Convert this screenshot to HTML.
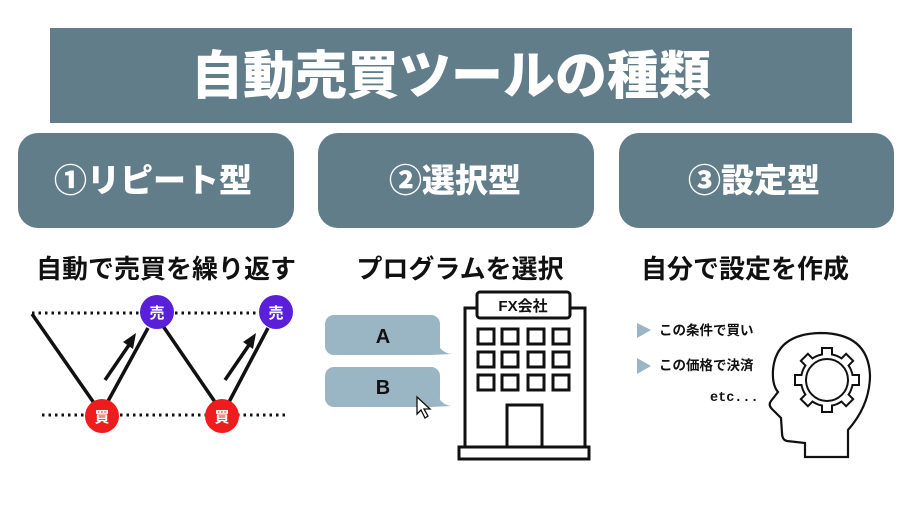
<!DOCTYPE html>
<html><head><meta charset="utf-8"><style>
body{margin:0;width:900px;height:500px;background:#fff;overflow:hidden;font-family:"Liberation Sans","Noto Sans CJK JP",sans-serif;}
</style></head><body>
<svg width="900" height="500" xmlns="http://www.w3.org/2000/svg" font-family="Liberation Sans, Noto Sans CJK JP, sans-serif">
<defs>
<g id="tb"><rect x="-6" y="-33" width="12" height="14"/></g>
<g id="tw"><rect x="-4" y="-31" width="8" height="13"/></g>
</defs>
<rect x="50" y="28" width="802" height="95" fill="#627d8a"/>
<text x="451" y="94" text-anchor="middle" fill="#fff" font-size="52" font-weight="900">自動売買ツールの種類</text>
<rect x="18" y="133" width="276" height="95" rx="20" fill="#627d8a"/>
<rect x="318" y="133" width="276" height="95" rx="20" fill="#627d8a"/>
<rect x="619" y="133" width="275" height="95" rx="20" fill="#627d8a"/>
<g fill="#fff" font-size="33" font-weight="900" text-anchor="middle">
<text x="153" y="192">①リピート型</text>
<text x="455" y="192">②選択型</text>
<text x="754" y="192">③設定型</text>
</g>
<g fill="#111" font-size="26" font-weight="700" text-anchor="middle">
<text x="166" y="278">自動で売買を繰り返す</text>
<text x="460" y="278">プログラムを選択</text>
<text x="745" y="278">自分で設定を作成</text>
</g>
<g stroke="#111" stroke-width="3" stroke-dasharray="2.5 4" fill="none">
<line x1="32" y1="313" x2="290" y2="313"/>
<line x1="42" y1="415" x2="287" y2="415"/>
</g>
<g stroke="#111" stroke-width="3.5" fill="none">
<polyline points="32,314 94,403"/>
<polyline points="107,403 148,328"/>
<polyline points="163,326 215,402"/>
<polyline points="229,402 268,328"/>
<line x1="105" y1="380" x2="129" y2="345"/>
<line x1="225" y1="380" x2="249" y2="345"/>
</g>
<polygon points="136,333 123,342 133,349" fill="#111"/>
<polygon points="256,333 243,342 253,349" fill="#111"/>
<circle cx="157" cy="312" r="17" fill="#5a1fd9"/>
<circle cx="276" cy="312" r="17" fill="#5a1fd9"/>
<circle cx="102" cy="416" r="17" fill="#ee1c1c"/>
<circle cx="222" cy="416" r="17" fill="#ee1c1c"/>
<g fill="#fff" font-size="15" font-weight="700" text-anchor="middle">
<text x="157" y="318">売</text><text x="276" y="318">売</text>
<text x="102" y="422">買</text><text x="222" y="422">買</text>
</g>
<g fill="#9ab5c3">
<rect x="325" y="315" width="115" height="40" rx="9"/>
<path d="M436,340 Q440,353 452,354 L430,355 Z"/>
<rect x="325" y="367" width="115" height="40" rx="9"/>
<path d="M436,392 Q440,405 452,406 L430,407 Z"/>
</g>
<g fill="#111" font-size="20" font-weight="700" text-anchor="middle">
<text x="383" y="343">A</text><text x="383" y="394">B</text>
</g>
<path d="M417,397 L417,414 L421,410 L425,418 L428,416 L424,409 L430,409 Z" fill="#fff" stroke="#111" stroke-width="1.3"/>
<g stroke="#111" stroke-width="3" fill="#fff">
<rect x="465" y="308" width="120" height="139"/>
<rect x="477" y="292" width="93" height="26" rx="3"/>
<rect x="459" y="447" width="130" height="12"/>
<rect x="507" y="405" width="35" height="42"/>
<g>
<rect x="478" y="329" width="16" height="15"/><rect x="502" y="329" width="16" height="15"/><rect x="528" y="329" width="16" height="15"/><rect x="553" y="329" width="16" height="15"/>
<rect x="478" y="352" width="16" height="15"/><rect x="502" y="352" width="16" height="15"/><rect x="528" y="352" width="16" height="15"/><rect x="553" y="352" width="16" height="15"/>
<rect x="478" y="375" width="16" height="15"/><rect x="502" y="375" width="16" height="15"/><rect x="528" y="375" width="16" height="15"/><rect x="553" y="375" width="16" height="15"/>
</g>
</g>
<text x="523" y="311" text-anchor="middle" font-size="15" font-weight="700" fill="#111">FX会社</text>
<polygon points="637,323 651,330 637,338" fill="#9ab5c3"/>
<polygon points="637,358 651,366 637,374" fill="#9ab5c3"/>
<g fill="#111" font-size="13.5" font-weight="700">
<text x="659" y="335">この条件で買い</text>
<text x="659" y="370">この価格で決済</text>
<text x="710" y="401" font-family="Liberation Mono, monospace">etc...</text>
</g>
<path d="M805,457 L805,443 L787,441 Q782,440 782,433 L781,418 L772,409 Q768,405 771,401 L778,392 Q772,385 773,370 Q776,334 820,333 Q868,333 870,375 Q870,405 848,430 L848,457 Z" fill="#fff" stroke="#111" stroke-width="2.2"/>
<g transform="translate(827,380)">
<g fill="#111">
<circle r="27"/>
<use href="#tb"/><use href="#tb" transform="rotate(45)"/><use href="#tb" transform="rotate(90)"/><use href="#tb" transform="rotate(135)"/><use href="#tb" transform="rotate(180)"/><use href="#tb" transform="rotate(225)"/><use href="#tb" transform="rotate(270)"/><use href="#tb" transform="rotate(315)"/>
</g>
<g fill="#fff">
<circle r="25"/>
<use href="#tw"/><use href="#tw" transform="rotate(45)"/><use href="#tw" transform="rotate(90)"/><use href="#tw" transform="rotate(135)"/><use href="#tw" transform="rotate(180)"/><use href="#tw" transform="rotate(225)"/><use href="#tw" transform="rotate(270)"/><use href="#tw" transform="rotate(315)"/>
</g>
<circle r="21" fill="none" stroke="#111" stroke-width="2"/>
</g>
</svg>
</body></html>
